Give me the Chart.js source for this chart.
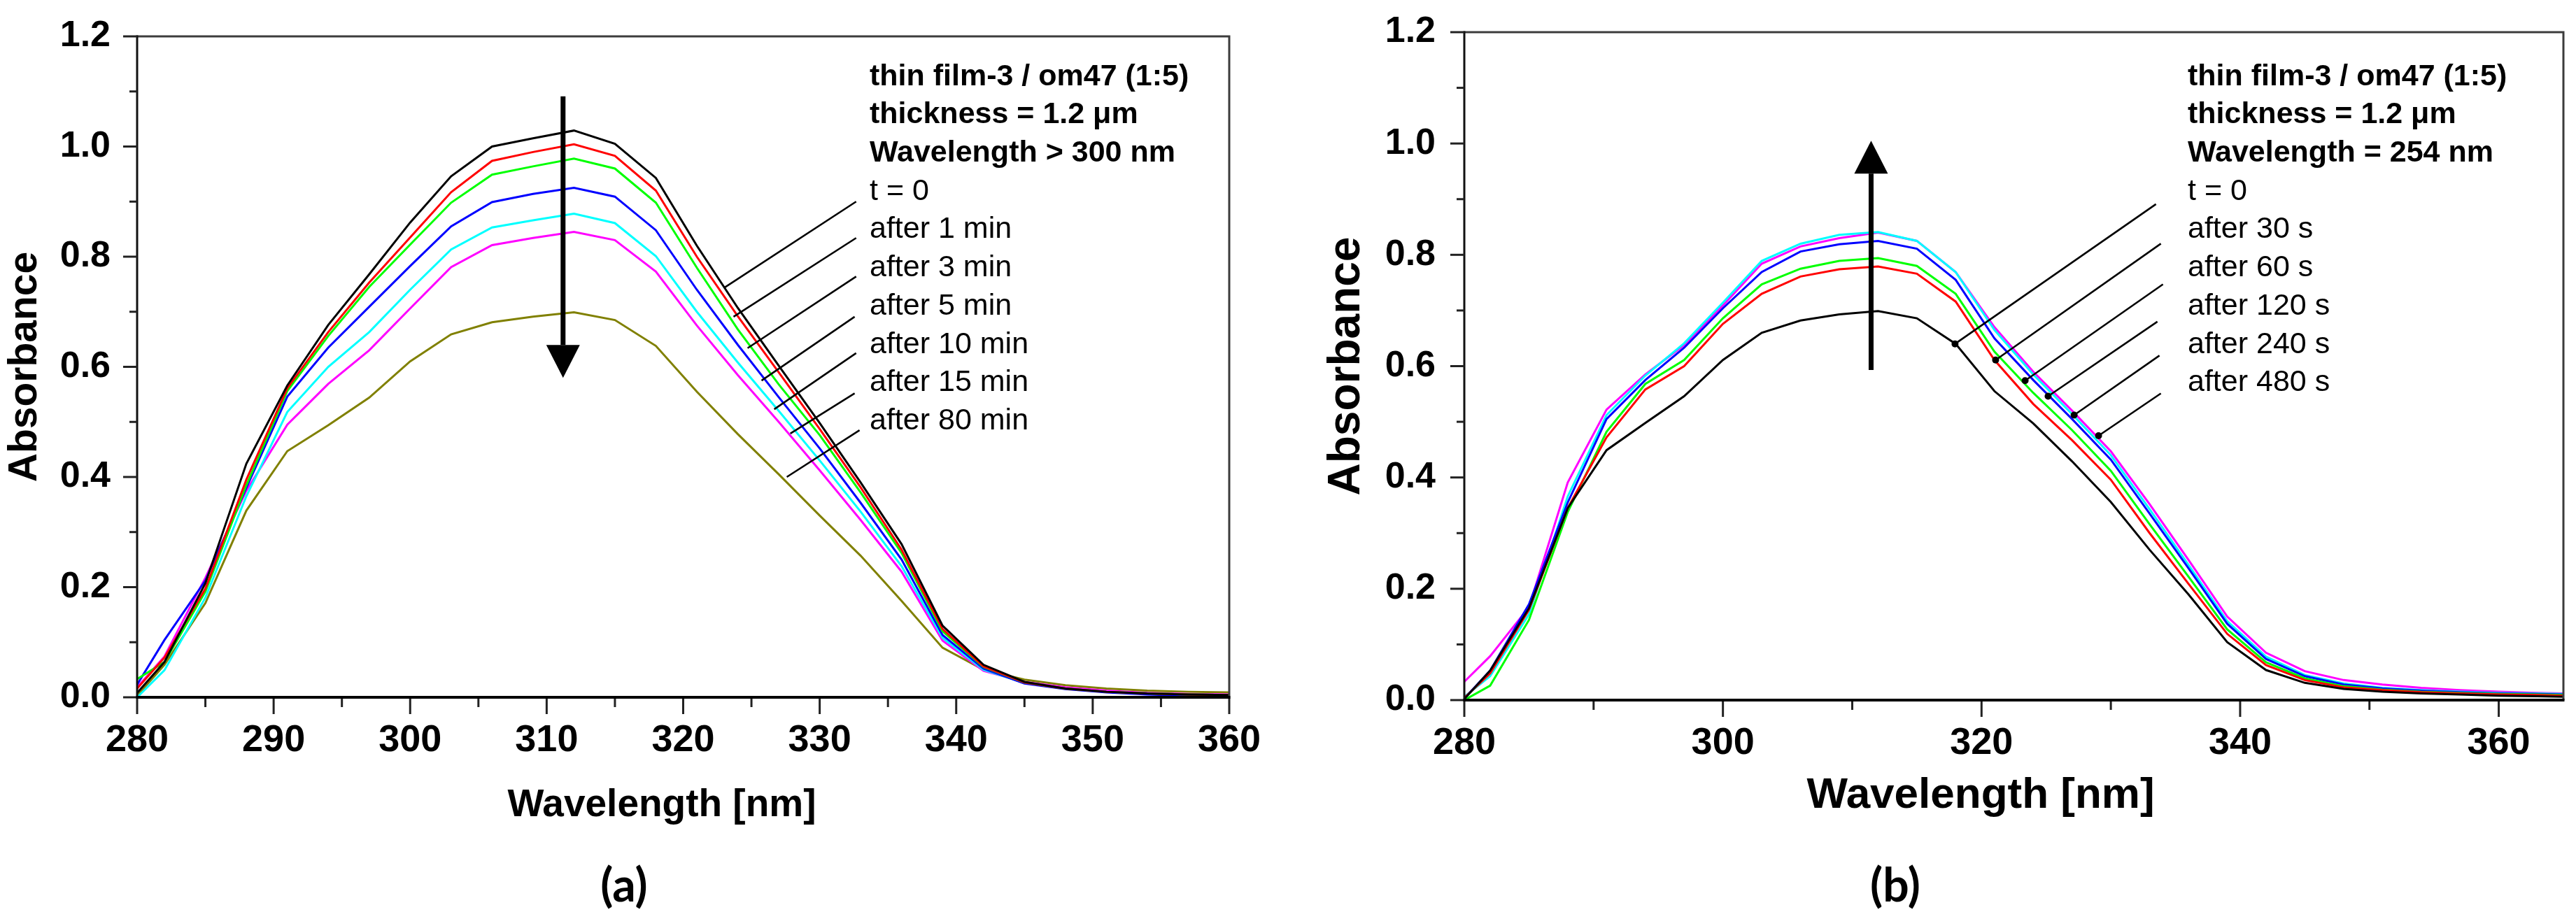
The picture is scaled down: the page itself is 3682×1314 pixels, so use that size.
<!DOCTYPE html>
<html><head><meta charset="utf-8">
<script src="https://cdn.jsdelivr.net/npm/chart.js@4.4.0/dist/chart.umd.min.js"></script>
<style>
html,body{margin:0;padding:0;background:#fff;width:3682px;height:1314px;overflow:hidden;position:relative;}
.wrap{position:absolute;top:0;height:1314px;}
.wrap canvas{display:block;}
.t{position:absolute;font-family:'Liberation Sans',Arial,sans-serif;color:#000;white-space:nowrap;}
.c{transform:translate(-50%,-50%);line-height:1;}
</style></head><body>
<div class="wrap" style="left:0;width:1840px"><canvas id="ca" width="1840" height="1314"></canvas></div>
<div class="wrap" style="left:1840px;width:1842px"><canvas id="cb" width="1842" height="1314"></canvas></div>
<script>
// ---------------- data: panel (a) ----------------
const wavelengthA = [280,282,285,288,291,294,297,300,303,306,309,312,315,318,321,324,327,330,333,336,339,342,345,348,351,354,357,360];
const absA_t0    = [0.008,0.064,0.207,0.424,0.566,0.676,0.768,0.862,0.946,1.000,1.015,1.029,1.005,0.943,0.820,0.707,0.602,0.498,0.390,0.278,0.130,0.059,0.028,0.016,0.010,0.007,0.005,0.004];
const absA_1min  = [0.016,0.072,0.197,0.395,0.561,0.663,0.753,0.835,0.917,0.974,0.990,1.004,0.983,0.920,0.800,0.692,0.590,0.487,0.381,0.268,0.124,0.056,0.027,0.016,0.010,0.007,0.005,0.004];
const absA_3min  = [0.033,0.064,0.192,0.385,0.556,0.656,0.745,0.822,0.898,0.949,0.964,0.978,0.960,0.898,0.780,0.668,0.568,0.476,0.372,0.262,0.120,0.055,0.027,0.016,0.010,0.007,0.005,0.004];
const absA_5min  = [0.023,0.104,0.212,0.380,0.546,0.635,0.709,0.783,0.855,0.899,0.914,0.925,0.909,0.848,0.740,0.640,0.545,0.452,0.353,0.250,0.113,0.052,0.025,0.015,0.009,0.005,0.003,0.002];
const absA_10min = [0.000,0.049,0.181,0.365,0.518,0.600,0.663,0.740,0.813,0.853,0.866,0.878,0.861,0.801,0.700,0.608,0.520,0.430,0.337,0.238,0.108,0.050,0.026,0.016,0.010,0.007,0.005,0.004];
const absA_15min = [0.018,0.074,0.217,0.375,0.495,0.569,0.630,0.706,0.781,0.821,0.834,0.845,0.830,0.773,0.675,0.585,0.500,0.412,0.322,0.228,0.103,0.048,0.028,0.018,0.012,0.008,0.006,0.005];
const absA_80min = [0.003,0.059,0.171,0.339,0.447,0.494,0.544,0.610,0.659,0.681,0.691,0.699,0.685,0.638,0.555,0.478,0.405,0.330,0.257,0.175,0.090,0.050,0.032,0.022,0.016,0.012,0.010,0.009];
const headerA = ['thin film-3 / om47 (1:5)','thickness = 1.2 \u03bcm','Wavelength > 300 nm'];
const labelsA = ['t = 0','after 1 min','after 3 min','after 5 min','after 10 min','after 15 min','after 80 min'];
const xTicksA = [280,290,300,310,320,330,340,350,360];

// ---------------- data: panel (b) ----------------
const wavelengthB = [280,282,285,288,291,294,297,300,303,306,309,312,315,318,321,324,327,330,333,336,339,342,345,348,351,354,357,360,363,365];
const absB_t0   = [0.002,0.053,0.165,0.345,0.449,0.498,0.546,0.611,0.660,0.682,0.693,0.699,0.686,0.640,0.555,0.497,0.429,0.356,0.270,0.190,0.104,0.054,0.031,0.020,0.015,0.012,0.010,0.008,0.007,0.006];
const absB_30s  = [0.004,0.048,0.162,0.345,0.472,0.558,0.600,0.676,0.730,0.761,0.774,0.779,0.766,0.716,0.611,0.532,0.467,0.396,0.300,0.209,0.119,0.063,0.036,0.023,0.018,0.014,0.012,0.010,0.009,0.008];
const absB_60s  = [0.000,0.026,0.144,0.338,0.482,0.568,0.611,0.686,0.747,0.775,0.789,0.794,0.780,0.730,0.626,0.552,0.485,0.412,0.316,0.222,0.127,0.068,0.039,0.025,0.019,0.015,0.013,0.011,0.010,0.009];
const absB_120s = [0.003,0.053,0.172,0.355,0.505,0.575,0.633,0.704,0.769,0.806,0.819,0.825,0.811,0.755,0.650,0.575,0.505,0.432,0.335,0.237,0.137,0.074,0.043,0.028,0.021,0.017,0.014,0.012,0.011,0.010];
const absB_240s = [0.006,0.043,0.154,0.366,0.512,0.583,0.641,0.714,0.789,0.820,0.836,0.841,0.825,0.769,0.665,0.585,0.514,0.440,0.343,0.243,0.142,0.078,0.045,0.030,0.022,0.018,0.015,0.013,0.012,0.011];
const absB_480s = [0.033,0.079,0.167,0.391,0.522,0.585,0.638,0.709,0.784,0.815,0.830,0.840,0.825,0.769,0.670,0.590,0.520,0.447,0.352,0.252,0.150,0.085,0.052,0.036,0.028,0.022,0.018,0.015,0.013,0.012];
const headerB = ['thin film-3 / om47 (1:5)','thickness = 1.2 \u03bcm','Wavelength = 254 nm'];
const labelsB = ['t = 0','after 30 s','after 60 s','after 120 s','after 240 s','after 480 s'];
const xTicksB = [280,300,320,340,360];

// annotation leader lines (data units: x1,y1 at label end -> x2,y2 on curve)
const leadersA = [[332.67,0.900,323.03,0.744],[332.67,0.834,323.69,0.691],[332.67,0.764,324.72,0.634],[332.56,0.691,325.74,0.575],[332.67,0.625,326.67,0.523],[332.56,0.552,327.85,0.479],[332.92,0.485,327.59,0.400]];
const leadersB = [[333.49,0.891,317.95,0.640],[333.87,0.820,321.09,0.611],[334.03,0.747,323.37,0.574],[333.60,0.680,325.15,0.546],[333.76,0.619,327.16,0.512],[333.87,0.551,329.05,0.475]];
// arrows (x, tail y, tip y) in data units
const arrowA = [311.2, 1.091, 0.580];
const arrowB = [311.46, 0.593, 1.005];

const colorsA = ['#000000','#ff0000','#00ff00','#0000ff','#00ffff','#ff00ff','#808000'];
const colorsB = ['#000000','#ff0000','#00ff00','#0000ff','#00ffff','#ff00ff'];

const decor = {
  id: 'decor',
  afterDatasetsDraw(chart, args, o) {
    const {ctx, chartArea: a, scales: {x, y}} = chart;
    ctx.save();
    // leader lines
    ctx.strokeStyle = '#000'; ctx.lineWidth = 2.6; ctx.lineCap = 'butt';
    o.leaders.forEach(l => {
      const x1 = x.getPixelForValue(l[0]), y1 = y.getPixelForValue(l[1]);
      const x2 = x.getPixelForValue(l[2]), y2 = y.getPixelForValue(l[3]);
      ctx.beginPath(); ctx.moveTo(x1, y1); ctx.lineTo(x2, y2); ctx.stroke();
      if (o.dots) { ctx.fillStyle = '#000'; ctx.beginPath(); ctx.arc(x2, y2, 5, 0, Math.PI * 2); ctx.fill(); }
    });
    // arrow
    const ax = x.getPixelForValue(o.arrow[0]);
    const tail = y.getPixelForValue(o.arrow[1]);
    const tip = y.getPixelForValue(o.arrow[2]);
    const dir = tip > tail ? 1 : -1;
    const base = tip - dir * 47;
    ctx.strokeStyle = '#000'; ctx.lineWidth = 7;
    ctx.beginPath(); ctx.moveTo(ax, tail); ctx.lineTo(ax, base); ctx.stroke();
    ctx.fillStyle = '#000';
    ctx.beginPath(); ctx.moveTo(ax - 24, base); ctx.lineTo(ax + 24, base); ctx.lineTo(ax, tip); ctx.closePath(); ctx.fill();
    // frame top/right
    ctx.strokeStyle = '#3c3c3c'; ctx.lineWidth = 3;
    ctx.beginPath(); ctx.moveTo(a.left, a.top); ctx.lineTo(a.right, a.top); ctx.lineTo(a.right, a.bottom); ctx.stroke();
    // left axis
    ctx.strokeStyle = '#111'; ctx.lineWidth = 3;
    ctx.beginPath(); ctx.moveTo(a.left, a.top - 1.5); ctx.lineTo(a.left, a.bottom); ctx.stroke();
    // y ticks (major 0.2, minor 0.1)
    ctx.strokeStyle = '#222'; ctx.lineWidth = 3;
    for (let i = 0; i <= 12; i++) {
      const py = y.getPixelForValue(i / 10);
      const len = i % 2 === 0 ? 20 : 11;
      ctx.beginPath(); ctx.moveTo(a.left - len, py); ctx.lineTo(a.left, py); ctx.stroke();
    }
    // x ticks
    for (let v = o.xmin; v <= o.xmax + 1e-9; v += o.minor) {
      const px = x.getPixelForValue(v);
      const len = (Math.round(v - o.xmin) % o.major === 0) ? 24 : 14;
      ctx.beginPath(); ctx.moveTo(px, a.bottom); ctx.lineTo(px, a.bottom + len); ctx.stroke();
    }
    // bottom axis
    ctx.strokeStyle = '#000'; ctx.lineWidth = 4;
    ctx.beginPath(); ctx.moveTo(a.left - 1.5, a.bottom); ctx.lineTo(a.right + 1.5, a.bottom); ctx.stroke();
    ctx.restore();
  }
};

function makeChart(id, xs, series, colors, cfg) {
  return new Chart(document.getElementById(id), {
    type: 'line',
    data: {
      datasets: series.map((s, k) => ({
        data: xs.map((xv, i) => ({x: xv, y: s[i]})),
        borderColor: colors[k], borderWidth: 3, pointRadius: 0, tension: 0, fill: false
      }))
    },
    options: {
      responsive: false, animation: false, devicePixelRatio: 1,
      layout: {padding: {left: 0, top: cfg.top, right: cfg.right, bottom: 0}},
      plugins: {legend: {display: false}, tooltip: {enabled: false},
        decor: {leaders: cfg.leaders, dots: cfg.dots, arrow: cfg.arrow, xmin: cfg.xmin, xmax: cfg.xmax, minor: cfg.minor, major: cfg.major}},
      scales: {
        x: {
          type: 'linear', min: cfg.xmin, max: cfg.xmax,
          afterFit: s => { s.height = cfg.xh; s.paddingLeft = 0; s.paddingRight = 0; },
          afterBuildTicks: s => { s.ticks = cfg.xticks.map(v => ({value: v})); },
          grid: {display: false, drawTicks: false}, border: {display: false},
          ticks: {autoSkip: false, maxRotation: 0, padding: 30, color: '#000',
            font: {family: 'Liberation Sans', weight: 'bold', size: 54}, callback: v => String(v)}
        },
        y: {
          min: 0, max: 1.2,
          afterFit: s => { s.width = cfg.yw; s.paddingTop = 0; s.paddingBottom = 0; },
          grid: {display: false, drawTicks: false}, border: {display: false},
          ticks: {stepSize: 0.2, padding: cfg.ypad, color: '#000',
            font: {family: 'Liberation Sans', weight: 'bold', size: 52}, callback: v => Number(v).toFixed(1)},
          title: {display: true, text: 'Absorbance', color: '#000',
            font: {family: 'Liberation Sans', weight: 'bold', size: cfg.ytSize}, padding: {top: cfg.ytPad, bottom: 0}}
        }
      }
    },
    plugins: [decor]
  });
}

makeChart('ca', wavelengthA, [absA_t0, absA_1min, absA_3min, absA_5min, absA_10min, absA_15min, absA_80min], colorsA,
  {top: 52, right: 83, xh: 317, yw: 196, ypad: 38, ytSize: 57, ytPad: 2, xmin: 280, xmax: 360, minor: 5, major: 10,
   xticks: xTicksA, leaders: leadersA, dots: false, arrow: arrowA});
makeChart('cb', wavelengthB, [absB_t0, absB_30s, absB_60s, absB_120s, absB_240s, absB_480s], colorsB,
  {top: 46, right: 18, xh: 313, yw: 253, ypad: 41, ytSize: 64, ytPad: 47, xmin: 280, xmax: 365, minor: 10, major: 20,
   xticks: xTicksB, leaders: leadersB, dots: true, arrow: arrowB});

// ---------------- HTML text ----------------
function addDiv(text, cls, style) {
  const d = document.createElement('div');
  d.className = 't ' + cls; d.textContent = text;
  Object.assign(d.style, style);
  document.body.appendChild(d);
}
function addBlock(header, labels, left) {
  const step = 54.7, first = 107;
  header.concat(labels).forEach((s, i) => {
    addDiv(s, '', {left: left + 'px', top: (first + i * step - step / 2) + 'px', height: step + 'px',
      lineHeight: step + 'px', fontSize: '43px', fontWeight: i < header.length ? 'bold' : 'normal'});
  });
}
addBlock(headerA, labelsA, 1243);
addBlock(headerB, labelsB, 3127);
addDiv('Wavelength [nm]', 'c', {left: '946px', top: '1148px', fontSize: '55px', fontWeight: 'bold'});
addDiv('Wavelength [nm]', 'c', {left: '2831px', top: '1134px', fontSize: '62px', fontWeight: 'bold'});
addDiv('(a)', 'c', {left: '892px', top: '1264px', fontSize: '66px', fontWeight: 'bold', fontFamily: 'Lato, sans-serif'});
addDiv('(b)', 'c', {left: '2709px', top: '1264px', fontSize: '66px', fontWeight: 'bold', fontFamily: 'Lato, sans-serif'});
</script>
</body></html>
